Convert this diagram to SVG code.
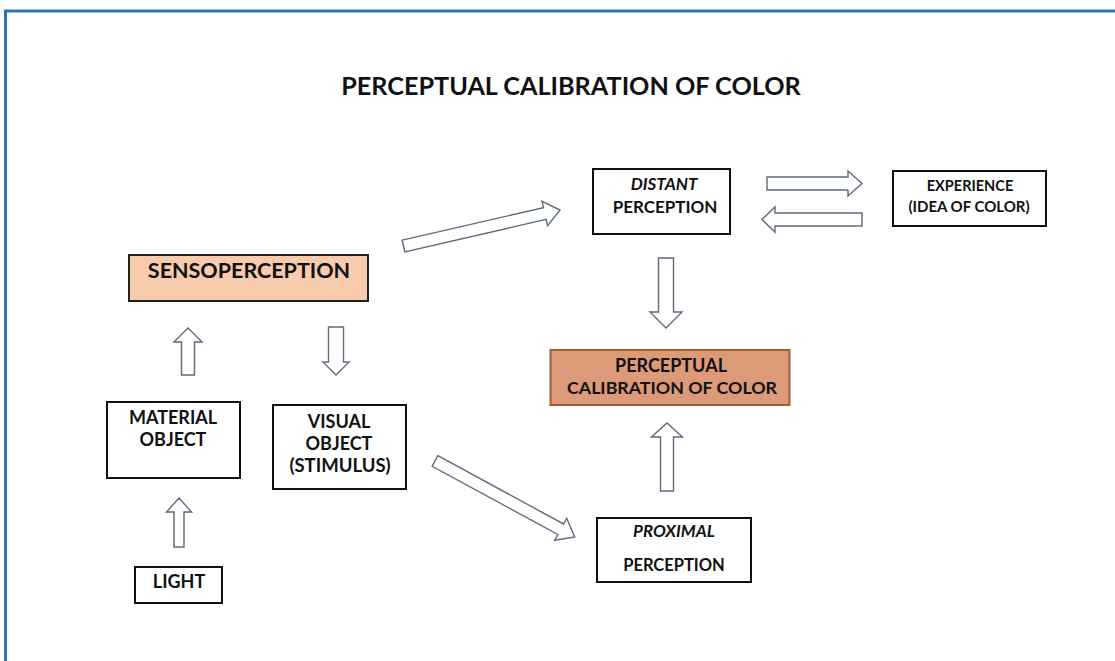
<svg xmlns="http://www.w3.org/2000/svg" width="1115" height="661" viewBox="0 0 1115 661">
<style>
.box{fill:#fff;stroke:#111;stroke-width:2}
.t{font-family:Lato,"Open Sans",sans-serif;font-weight:bold;fill:#111;text-anchor:middle}
.i{font-style:italic}
.arr{fill:#fff;stroke:#5d6b7c;stroke-width:1.4;stroke-linejoin:miter}
</style>
<rect x="0" y="0" width="1115" height="661" fill="#fff"/>
<rect x="5.5" y="11" width="1120" height="700" fill="none" stroke="#2e75b6" stroke-width="3"/>
<text class="t" x="571" y="95" font-size="25.2">PERCEPTUAL CALIBRATION OF COLOR</text>

<g id="connectors">
  <polygon class="arr" transform="translate(403.5,246) rotate(-12.95)" points="0,-6 145,-6 145,-12.5 160.6,0 145,12.5 145,6 0,6"/>
  <polygon class="arr" transform="translate(435,461) rotate(28.5)" points="0,-6 143,-6 143,-12.5 159,0 143,12.5 143,6 0,6"/>
  <polygon class="arr" transform="translate(767,183.5) rotate(0)" points="0,-6.5 81,-6.5 81,-12.5 95,0 81,12.5 81,6.5 0,6.5"/>
  <polygon class="arr" transform="translate(862,219.5) rotate(180)" points="0,-6.5 87,-6.5 87,-12.5 100,0 87,12.5 87,6.5 0,6.5"/>
  <polygon class="arr" transform="translate(666,258) rotate(90)" points="0,-7.5 54,-7.5 54,-16 70,0 54,16 54,7.5 0,7.5"/>
  <polygon class="arr" transform="translate(667,491) rotate(-90)" points="0,-6.5 54,-6.5 54,-15.5 68,0 54,15.5 54,6.5 0,6.5"/>
  <polygon class="arr" transform="translate(188,375) rotate(-90)" points="0,-6.5 33,-6.5 33,-14 47,0 33,14 33,6.5 0,6.5"/>
  <polygon class="arr" transform="translate(336,327) rotate(90)" points="0,-7.5 35,-7.5 35,-13 48,0 35,13 35,7.5 0,7.5"/>
  <polygon class="arr" transform="translate(179,547) rotate(-90)" points="0,-5 35,-5 35,-12.5 49,0 35,12.5 35,5 0,5"/>
</g>

<g id="distant">
  <rect class="box" x="593" y="169" width="137" height="65"/>
  <text class="t i" x="664" y="190" font-size="17">DISTANT</text>
  <text class="t" x="665" y="213" font-size="17">PERCEPTION</text>
</g>
<g id="experience">
  <rect class="box" x="893" y="171" width="153" height="55"/>
  <text class="t" x="970" y="191" font-size="14.5">EXPERIENCE</text>
  <text class="t" x="969" y="212" font-size="15">(IDEA OF COLOR)</text>
</g>
<g id="sensoperception">
  <rect x="129" y="255" width="239" height="46" fill="#f8cbad" stroke="#222" stroke-width="2"/>
  <text class="t" x="249" y="278" font-size="21.5">SENSOPERCEPTION</text>
</g>
<g id="calibration">
  <rect x="550.5" y="350" width="239" height="55" fill="#dc9a78" stroke="#a65a36" stroke-width="2"/>
  <text class="t" x="671" y="372" font-size="18">PERCEPTUAL</text>
  <text class="t" x="672" y="394" font-size="17.8">CALIBRATION OF COLOR</text>
</g>
<g id="material">
  <rect class="box" x="107" y="402" width="133" height="76"/>
  <text class="t" x="173" y="424" font-size="18">MATERIAL</text>
  <text class="t" x="173" y="446" font-size="18">OBJECT</text>
</g>
<g id="visual">
  <rect class="box" x="273" y="405" width="133" height="84"/>
  <text class="t" x="339" y="428" font-size="18">VISUAL</text>
  <text class="t" x="339" y="450" font-size="18">OBJECT</text>
  <text class="t" x="340" y="472" font-size="18.5">(STIMULUS)</text>
</g>
<g id="proximal">
  <rect class="box" x="597" y="518" width="154" height="64"/>
  <text class="t i" x="674" y="537" font-size="17">PROXIMAL</text>
  <text class="t" x="674" y="571" font-size="16.5">PERCEPTION</text>
</g>
<g id="light">
  <rect class="box" x="135" y="567" width="87" height="36"/>
  <text class="t" x="179" y="588" font-size="18">LIGHT</text>
</g>
</svg>
